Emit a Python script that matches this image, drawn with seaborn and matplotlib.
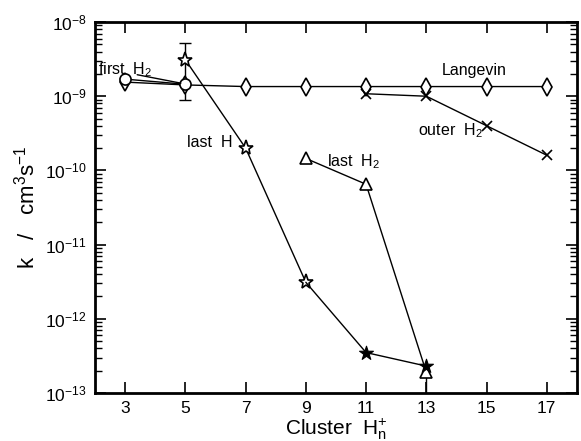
import numpy as np
import pandas as pd
import seaborn as sns
import matplotlib.pyplot as plt
from matplotlib.ticker import LogLocator, NullFormatter

sns.set_style("ticks")
plt.rcParams['font.family'] = ['Liberation Sans', 'DejaVu Sans']
plt.rcParams['mathtext.fontset'] = 'custom'
plt.rcParams['mathtext.rm'] = 'Liberation Sans'
plt.rcParams['mathtext.it'] = 'Liberation Sans'
plt.rcParams['axes.edgecolor'] = 'black'
plt.rcParams['xtick.color'] = 'black'
plt.rcParams['ytick.color'] = 'black'
plt.rcParams['text.color'] = 'black'
plt.rcParams['axes.labelcolor'] = 'black'

# Rate coefficients k (cm^3 s^-1) versus cluster size n of H_n^+
langevin_n = [3, 5, 7, 9, 11, 13, 15, 17]
langevin_k = [1.55e-9, 1.42e-9, 1.35e-9, 1.35e-9, 1.35e-9, 1.35e-9, 1.35e-9, 1.35e-9]

first_h2_n = [3, 5]
first_h2_k = [1.7e-9, 1.45e-9]

outer_h2_n = [11, 13, 15, 17]
outer_h2_k = [1.08e-9, 1.0e-9, 4.0e-10, 1.6e-10]

last_h_n = [5, 7, 9]
last_h_k = [3.1e-9, 2.0e-10, 3.1e-12]
last_h_tail_n = [9, 11, 13]
last_h_tail_k = [3.1e-12, 3.5e-13, 2.3e-13]
last_h_err_lo = 0.89e-9
last_h_err_hi = 5.2e-9

last_h2_n = [9, 11, 13]
last_h2_k = [1.45e-10, 6.5e-11, 1.9e-13]

x_ticks = [3, 5, 7, 9, 11, 13, 15, 17]

fig = plt.figure(figsize=(5.81, 4.41), dpi=100)
ax = fig.add_axes([0.1635, 0.109, 0.8295, 0.841])

open_mk = dict(markerfacecolor='white', markeredgecolor='black', markeredgewidth=1.2)
line_kw = dict(color='black', linewidth=1.0, estimator=None, sort=False)

sns.lineplot(x=langevin_n, y=langevin_k, marker='d', markersize=9, ax=ax, **line_kw, **open_mk)
sns.lineplot(x=first_h2_n, y=first_h2_k, marker='o', markersize=8, ax=ax, **line_kw, **open_mk)
sns.lineplot(x=outer_h2_n, y=outer_h2_k, marker='x', markersize=7, ax=ax,
             markeredgecolor='black', markeredgewidth=1.2, color='black',
             linewidth=1.0, estimator=None, sort=False)
sns.lineplot(x=last_h_n, y=last_h_k, marker='*', markersize=11, ax=ax, **line_kw, **open_mk)
sns.lineplot(x=last_h_tail_n, y=last_h_tail_k, marker=None, ax=ax, **line_kw)
sns.scatterplot(x=last_h_tail_n[1:], y=last_h_tail_k[1:], marker='*', s=110,
                color='black', edgecolor='black', linewidth=0.8, ax=ax, zorder=5)
sns.lineplot(x=last_h2_n, y=last_h2_k, marker='^', markersize=8, ax=ax, **line_kw, **open_mk)

# error bars
ax.errorbar([5], [last_h_k[0]],
            yerr=[[last_h_k[0] - last_h_err_lo], [last_h_err_hi - last_h_k[0]]],
            fmt='none', ecolor='black', elinewidth=1.0, capsize=4, zorder=1)
ax.errorbar([13], [last_h2_k[2]], yerr=[[last_h2_k[2] - 1.0e-13], [0]],
            fmt='none', ecolor='black', elinewidth=1.0, capsize=0, zorder=1)

ax.set_yscale('log')
ax.set_xlim(2, 18)
ax.set_ylim(1e-13, 1e-8)
ax.set_xticks(x_ticks)
ax.set_xticklabels([str(t) for t in x_ticks])
ax.yaxis.set_major_locator(LogLocator(base=10, numticks=10))
ax.yaxis.set_minor_locator(LogLocator(base=10, subs=np.arange(2, 10), numticks=20))
ax.yaxis.set_minor_formatter(NullFormatter())

ax.tick_params(axis='both', which='major', direction='in', length=8, width=1.2,
               top=True, right=True, labelsize=12.5, pad=6)
ax.tick_params(axis='y', which='minor', direction='in', length=5, width=1.0,
               left=True, right=True)
ax.tick_params(axis='x', which='minor', bottom=False, top=False)
for s in ax.spines.values():
    s.set_linewidth(2.0)
    s.set_visible(True)
    s.set_color('black')

ax.set_xlabel('Cluster  H$_{\\mathrm{n}}^{+}$', fontsize=15, labelpad=0)
ax.set_ylabel('k   /   cm$^3$s$^{-1}$', fontsize=16, labelpad=4)

ax.text(14.6, 2.2e-9, 'Langevin', fontsize=11.5, ha='center', va='center')
ax.text(13.8, 3.4e-10, 'outer  H$_2$', fontsize=11.5, ha='center', va='center')
ax.text(10.6, 1.3e-10, 'last  H$_2$', fontsize=11.5, ha='center', va='center')
ax.text(5.8, 2.4e-10, 'last  H', fontsize=11.5, ha='center', va='center')
ax.text(3.0, 2.3e-9, 'first  H$_2$', fontsize=11.5, ha='center', va='center')
ax.plot([3.4, 4.85], [1.95e-9, 1.5e-9], color='black', linewidth=1.0)

fig.savefig('out.png', dpi=100)
